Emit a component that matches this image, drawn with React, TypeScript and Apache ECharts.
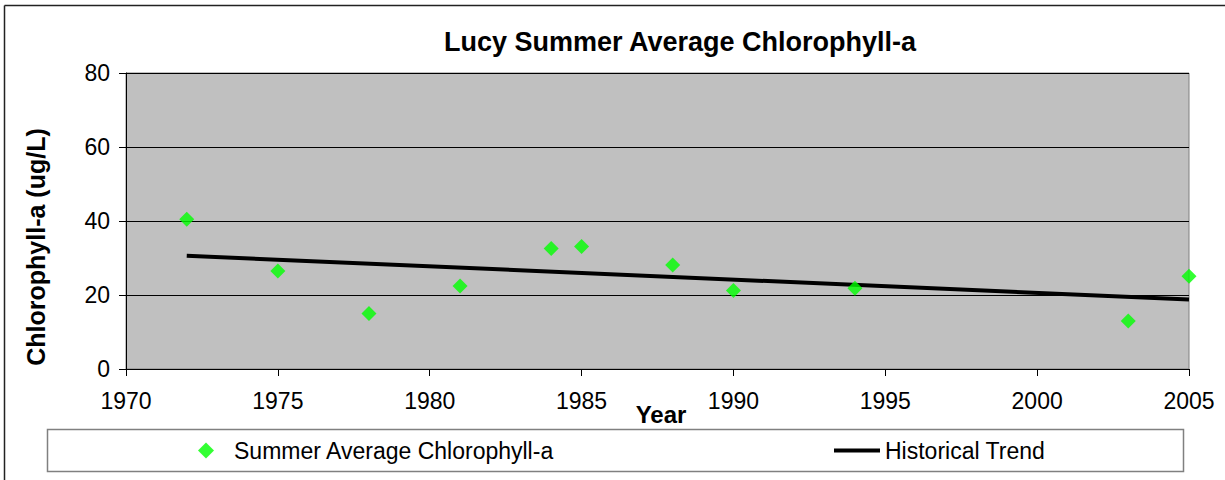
import React, { useEffect, useRef } from "react";
import * as echarts from "echarts";

const years = [1972, 1975, 1978, 1981, 1984, 1985, 1988, 1990, 1994, 2003, 2005];
const chlorophyll = [40.5, 26.5, 15.0, 22.4, 32.6, 33.1, 28.1, 21.2, 21.8, 13.0, 25.1];
const trendYears = [1972, 2005];
const trendValues = [30.6, 18.8];

const FONT = "'Liberation Sans', Arial, sans-serif";

export default function App() {
  const ref = useRef<HTMLDivElement>(null);
  useEffect(() => {
    if (!ref.current) return;
    const chart = echarts.init(ref.current, undefined, { renderer: "svg" });
    chart.setOption({
      animation: false,
      backgroundColor: "#ffffff",
      textStyle: { fontFamily: FONT },
      grid: {
        left: 126,
        top: 73,
        right: 36,
        bottom: 111,
        show: true,
        backgroundColor: "#c0c0c0",
        borderColor: "#808080",
        borderWidth: 1,
      },
      xAxis: {
        type: "value",
        min: 1970,
        max: 2005,
        interval: 5,
        axisLine: { show: true, onZero: false, lineStyle: { color: "#000", width: 1 } },
        axisTick: { show: true, length: 7, lineStyle: { color: "#000" } },
        axisLabel: {
          color: "#000",
          fontSize: 23,
          margin: 20,
          fontFamily: FONT,
          formatter: (v: number) => String(v),
        },
        splitLine: { show: false },
      },
      yAxis: {
        type: "value",
        min: 0,
        max: 80,
        interval: 20,
        axisLine: { show: true, lineStyle: { color: "#000", width: 1 } },
        axisTick: { show: true, length: 7, lineStyle: { color: "#000" } },
        axisLabel: { color: "#000", fontSize: 23, margin: 16, fontFamily: FONT },
        splitLine: { show: true, lineStyle: { color: "#000", width: 1 } },
      },
      graphic: [
        {
          type: "line",
          silent: true,
          shape: { x1: 4.5, y1: 5.5, x2: 1225, y2: 5.5 },
          style: { stroke: "#222", lineWidth: 1.5 },
        },
        {
          type: "line",
          silent: true,
          shape: { x1: 4.5, y1: 5.5, x2: 4.5, y2: 480 },
          style: { stroke: "#222", lineWidth: 1.5 },
        },
        {
          type: "rect",
          silent: true,
          z: 1,
          shape: { x: 47.5, y: 429.5, width: 1136, height: 42 },
          style: { fill: "#ffffff", stroke: "#808080", lineWidth: 1.5 },
        },
        {
          type: "text",
          x: 680,
          y: 42,
          style: {
            text: "Lucy Summer Average Chlorophyll-a",
            font: `bold 27px ${FONT}`,
            fill: "#000",
            align: "center",
            verticalAlign: "middle",
          },
        },
        {
          type: "text",
          x: 36,
          y: 247,
          rotation: Math.PI / 2,
          style: {
            text: "Chlorophyll-a (ug/L)",
            font: `bold 25px ${FONT}`,
            fill: "#000",
            align: "center",
            verticalAlign: "middle",
          },
        },
        {
          type: "text",
          x: 661,
          y: 414,
          style: {
            text: "Year",
            font: `bold 24px ${FONT}`,
            fill: "#000",
            align: "center",
            verticalAlign: "middle",
          },
        },
      ],
      legend: [
        {
          z: 10,
          left: 198,
          top: 439,
          padding: 0,
          itemWidth: 16,
          itemHeight: 16,
          data: [{ name: "Summer Average Chlorophyll-a", icon: "diamond" }],
          textStyle: { fontSize: 23, color: "#000", fontFamily: FONT, padding: [0, 0, 0, 15] },
          selectedMode: false,
        },
        {
          z: 10,
          left: 834,
          top: 439,
          padding: 0,
          itemWidth: 46,
          itemHeight: 4,
          data: [{ name: "Historical Trend", icon: "rect" }],
          textStyle: { fontSize: 23, color: "#000", fontFamily: FONT },
          selectedMode: false,
        },
      ],
      series: [
        {
          name: "Summer Average Chlorophyll-a",
          type: "scatter",
          symbol: "diamond",
          symbolSize: 15,
          itemStyle: { color: "#00ff00" },
          data: years.map((y, i) => [y, chlorophyll[i]]),
          z: 5,
        },
        {
          name: "Historical Trend",
          type: "line",
          symbol: "none",
          showSymbol: false,
          lineStyle: { color: "#000", width: 4 },
          itemStyle: { color: "#000" },
          data: trendYears.map((y, i) => [y, trendValues[i]]),
          z: 4,
        },
      ],
    });
    return () => chart.dispose();
  }, []);
  return (
    <div
      ref={ref}
      style={{ position: "absolute", left: 0, top: 0, width: 1225, height: 480 }}
    />
  );
}
